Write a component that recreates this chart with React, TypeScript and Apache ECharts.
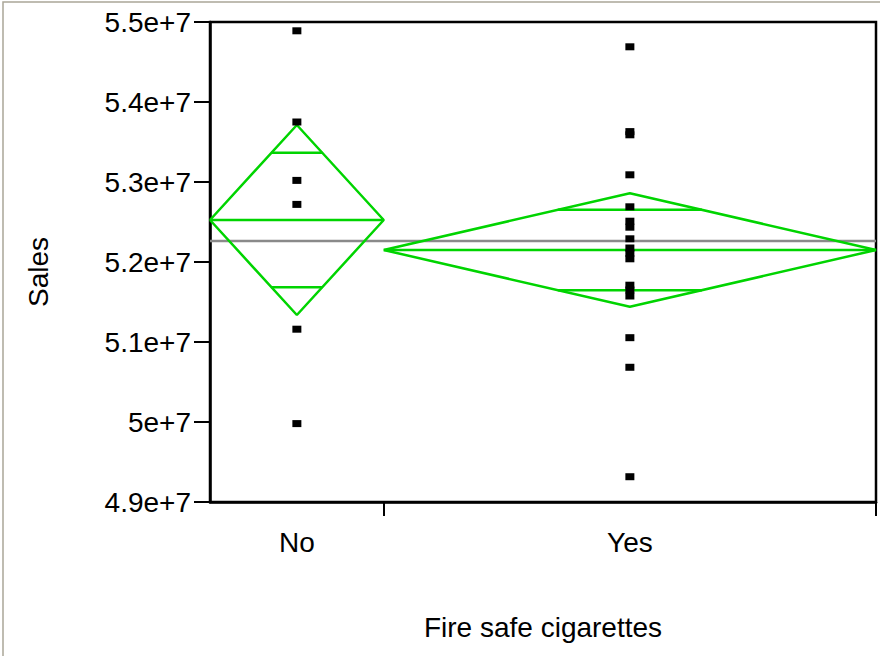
import React, { useEffect, useRef } from "react";
import * as echarts from "echarts";

// ---- data ----
const categories = ["No", "Yes"];
const groupCounts = [6, 17];
const noSales = [5.489e7, 5.375e7, 5.302e7, 5.272e7, 5.116e7, 4.998e7];
const yesSales = [
  5.469e7, 5.363e7, 5.359e7, 5.309e7, 5.269e7, 5.251e7, 5.2435e7, 5.229e7,
  5.2175e7, 5.211e7, 5.204e7, 5.171e7, 5.165e7, 5.1575e7, 5.1054e7, 5.0684e7,
  4.9316e7,
];
const groupMeans = [5.2525e7, 5.215e7];
const ciHalfWidths = [1.1875e6, 7.1e5];
const grandMean = 5.2263e7;
const yMin = 4.9e7;
const yMax = 5.5e7;
const yInterval = 1e6;

const GREEN = "#00d400";
const FONT = "Liberation Sans, Arial, sans-serif";

export default function App() {
  const ref = useRef<HTMLDivElement>(null);

  useEffect(() => {
    if (!ref.current) return;
    const chart = echarts.init(ref.current, undefined, { renderer: "svg" });

    const total = groupCounts.reduce((a, b) => a + b, 0);
    const starts: number[] = [];
    let acc = 0;
    groupCounts.forEach((c) => {
      starts.push(acc);
      acc += c;
    });
    const centers = groupCounts.map((c, i) => starts[i] + c / 2);
    const ends = groupCounts.map((c, i) => starts[i] + c);
    const groupValues = [noSales, yesSales];

    const lineSeries = (data: number[][], color: string, width: number, z: number) => ({
      type: "line",
      data,
      symbol: "none",
      showSymbol: false,
      silent: true,
      animation: false,
      z,
      lineStyle: { color, width },
    });

    const series: any[] = [];
    series.push(lineSeries([[0, grandMean], [total, grandMean]], "#8a8a8a", 2.5, 2));

    groupMeans.forEach((m, i) => {
      const h = ciHalfWidths[i];
      const s = starts[i];
      const e = ends[i];
      const c = centers[i];
      const k = h / Math.SQRT2;
      const hw = (groupCounts[i] / 2) * (1 - 1 / Math.SQRT2);
      series.push(lineSeries([[s, m], [c, m + h], [e, m], [c, m - h], [s, m]], GREEN, 2.5, 3));
      series.push(lineSeries([[s, m], [e, m]], GREEN, 2.5, 3));
      series.push(lineSeries([[c - hw, m + k], [c + hw, m + k]], GREEN, 2.5, 3));
      series.push(lineSeries([[c - hw, m - k], [c + hw, m - k]], GREEN, 2.5, 3));
    });

    series.push({
      type: "scatter",
      data: groupValues.flatMap((vals, i) => vals.map((v) => [centers[i], v])),
      symbol: "rect",
      symbolSize: [9, 7],
      itemStyle: { color: "#000", opacity: 1 },
      z: 5,
      silent: true,
    });

    chart.setOption({
      animation: false,
      backgroundColor: "#fff",
      grid: {
        left: 210,
        right: 4,
        top: 22,
        bottom: 154,
        show: true,
        borderColor: "#000",
        borderWidth: 2.5,
        backgroundColor: "#fff",
      },
      xAxis: {
        type: "value",
        min: 0,
        max: total,
        splitLine: { show: false },
        axisLine: { show: true, lineStyle: { color: "#000", width: 2.5 } },
        axisTick: {
          show: true,
          customValues: [ends[0], ends[1]],
          length: 14,
          lineStyle: { color: "#000", width: 2 },
        },
        axisLabel: {
          customValues: centers,
          margin: 26,
          fontSize: 28,
          color: "#000",
          fontFamily: FONT,
          formatter: (v: number) => {
            const idx = centers.findIndex((c) => Math.abs(c - v) < 1e-6);
            return idx >= 0 ? categories[idx] : "";
          },
        },
      },
      yAxis: {
        type: "value",
        min: yMin,
        max: yMax,
        interval: yInterval,
        splitLine: { show: false },
        axisLine: { show: true, lineStyle: { color: "#000", width: 2.5 } },
        axisTick: { show: true, length: 16, lineStyle: { color: "#000", width: 2 } },
        axisLabel: {
          margin: 19,
          fontSize: 28,
          color: "#000",
          fontFamily: FONT,
          formatter: (v: number) => v.toExponential().replace(/\.?0+e/, "e"),
        },
      },
      graphic: [
        {
          type: "rect",
          shape: { x: 3, y: 2, width: 900, height: 700 },
          style: { fill: "none", stroke: "#aaa798", lineWidth: 1.5 },
          silent: true,
          z: -1,
        },
        {
          type: "text",
          x: 38,
          y: 272,
          rotation: Math.PI / 2,
          style: {
            text: "Sales",
            fontSize: 28,
            fontFamily: FONT,
            fill: "#000",
            align: "center",
            verticalAlign: "middle",
          },
        },
        {
          type: "text",
          x: 543,
          y: 627,
          style: {
            text: "Fire safe cigarettes",
            fontSize: 28,
            fontFamily: FONT,
            fill: "#000",
            align: "center",
            verticalAlign: "middle",
          },
        },
      ],
      series,
    });

    return () => chart.dispose();
  }, []);

  return (
    <div
      ref={ref}
      style={{ position: "fixed", left: 0, top: 0, width: 880, height: 656, background: "#fff" }}
    />
  );
}
